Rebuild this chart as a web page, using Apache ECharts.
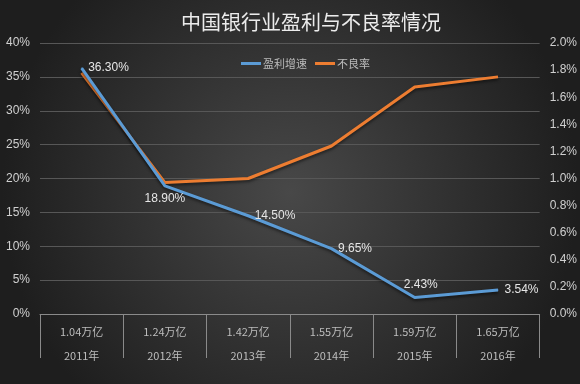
<!DOCTYPE html>
<html><head><meta charset="utf-8">
<script src="https://cdn.jsdelivr.net/npm/echarts@6/dist/echarts.min.js"></script>
<style>html,body{margin:0;padding:0;background:#2a2a2a}#c{width:580px;height:384px}</style>
</head><body><div id="c"></div>
<script>
const years = ['2011年','2012年','2013年','2014年','2015年','2016年'];
const profits = ['1.04万亿','1.24万亿','1.42万亿','1.55万亿','1.59万亿','1.65万亿'];
const growth = [36.30, 18.90, 14.50, 9.65, 2.43, 3.54];
const npl = [1.78, 0.97, 1.00, 1.24, 1.675, 1.75];
const leftTicks = {min: 0, max: 40, interval: 5};
const rightTicks = {min: 0, max: 2.0, interval: 0.2};

const labelPos = ['right','bottom','right','right','top','right'];
const font = '"Noto Sans CJK SC", "Liberation Sans", sans-serif';
const chart = echarts.init(document.getElementById('c'));
chart.setOption({
  backgroundColor: {type:'radial', x:0.5, y:0.5, r:0.75, colorStops:[{offset:0,color:'#484848'},{offset:1,color:'#1e1e1e'}]},
  animation: false,
  title: {text:'中国银行业盈利与不良率情况', left:176, top:7,
    textStyle:{color:'#ececec', fontSize:20, fontWeight:'normal', fontFamily:font}},
  legend: {top:53, left:236, itemWidth:20, itemHeight:3, itemGap:8,
    icon:'rect',
    textStyle:{color:'#bbbbbb', fontSize:11, fontFamily:font, padding:[0,0,0,-3]},
    data:['盈利增速','不良率']},
  grid: {left:40, right:37, top:43, bottom:70},
  xAxis: {type:'category', data: years, boundaryGap:true,
    axisLine:{lineStyle:{color:'#8a8a8a', width:1}},
    axisTick:{show:true, length:44, lineStyle:{color:'#8a8a8a'}},
    axisLabel:{margin:6, interval:0, color:'#bdbdbd', fontFamily:font,
      formatter:(v, i)=> '{a|' + profits[i] + '}\n{b|' + v + '}',
      rich:{a:{fontSize:11, lineHeight:24, color:'#bdbdbd'}, b:{fontSize:11, lineHeight:24, color:'#bdbdbd'}}}},
  yAxis: [
    {type:'value', min:leftTicks.min, max:leftTicks.max, interval:leftTicks.interval,
      axisLine:{show:false}, axisTick:{show:false},
      splitLine:{lineStyle:{color:'#575757', width:1}},
      axisLabel:{color:'#d0d0d0', fontSize:12, margin:10, fontFamily:'"Liberation Sans", sans-serif', formatter:v=>v+'%'}},
    {type:'value', min:rightTicks.min, max:rightTicks.max, interval:rightTicks.interval,
      axisLine:{show:false}, axisTick:{show:false}, splitLine:{show:false},
      axisLabel:{color:'#d0d0d0', fontSize:12, margin:10, fontFamily:'"Liberation Sans", sans-serif', formatter:v=>v.toFixed(1)+'%'}}
  ],
  series: [
    {name:'盈利增速', type:'line', yAxisIndex:0, symbol:'circle', symbolSize:1, showSymbol:true,
      data: growth.map((v,i)=>({value:v, label:{position:labelPos[i], distance:6,
        offset: i===4 ? [6,0] : [0,0]}})),
      label:{show:true, color:'#e6e6e6', fontSize:12, fontFamily:'"Liberation Sans", sans-serif', formatter:p=>Number(p.value).toFixed(2)+'%'},
      lineStyle:{color:'#5b9bd5', width:3, shadowColor:'rgba(0,0,0,0.5)', shadowBlur:3, shadowOffsetY:2},
      itemStyle:{color:'#5b9bd5'}, z:3},
    {name:'不良率', type:'line', yAxisIndex:1, symbol:'none', data: npl,
      lineStyle:{color:'#ed7d31', width:3, shadowColor:'rgba(0,0,0,0.5)', shadowBlur:3, shadowOffsetY:2},
      itemStyle:{color:'#ed7d31'}, z:2}
  ]
});
</script></body></html>
